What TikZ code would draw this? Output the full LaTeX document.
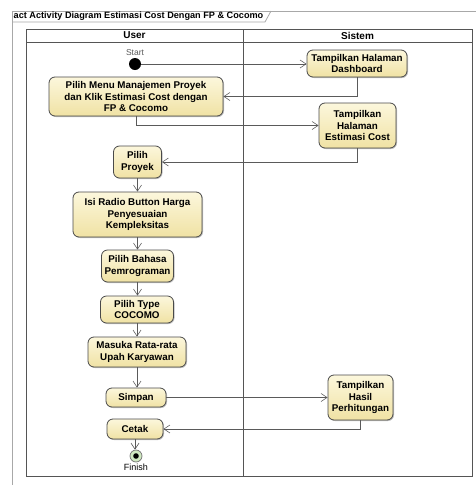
\documentclass[tikz,border=0pt]{standalone}
\usepackage{fontspec}
\setmainfont{Liberation Sans}
\usetikzlibrary{arrows.meta,shadows}
\definecolor{boxtop}{HTML}{FCF7DC}
\definecolor{boxbot}{HTML}{F0E2A4}
\definecolor{boxline}{HTML}{4A4A4A}
\definecolor{flowline}{HTML}{5A5A5A}
\definecolor{frameline}{HTML}{A8A8A8}
\definecolor{laneline}{HTML}{555555}
\definecolor{finfill}{HTML}{CFE8C0}
\begin{document}
\begin{tikzpicture}[x=1pt,y=-1pt,
  actbox/.style={draw=boxline, line width=0.8pt, rounded corners=6pt,
    top color=boxtop, bottom color=boxbot, align=center, inner sep=0pt,
    font=\bfseries\fontsize{9.8}{11.5}\selectfont,
    drop shadow={shadow xshift=1pt, shadow yshift=-1pt, opacity=0.25, fill=black}},
  flow/.style={draw=flowline, line width=0.6pt, -{Straight Barb[length=6pt,width=8pt]}},
  lane/.style={draw=laneline, line width=0.9pt},
  frm/.style={draw=frameline, line width=0.8pt},
  hdr/.style={font=\bfseries\fontsize{10}{12}\selectfont, inner sep=0pt}
]
\useasboundingbox[fill=white] (0,0) rectangle (476,485);
% frame
\draw[frm] (476,11) -- (12,11) -- (12,485);
\draw[frm] (12,22) -- (265,22) -- (271,11);
\node[anchor=west, inner sep=0pt, font=\bfseries\fontsize{9.15}{10}\selectfont] (title) at (13.5,16.5) {act Activity Diagram Estimasi Cost Dengan FP \& Cocomo};
% swimlanes
\draw[lane] (26,29) rectangle (472,476);
\draw[lane] (26,42) -- (472,42);
\draw[lane] (243,29) -- (243,476);
\node[hdr] (huser) at (134.5,35.5) {User};
\node[hdr] (hsis) at (357.5,35.5) {Sistem};
% nodes
\node[circle, fill=black, minimum size=12pt, inner sep=0pt] (start) at (135,64) {};
\node[inner sep=0pt, text=black!65, font=\fontsize{8.5}{9}\selectfont] (startlbl) at (135,53) {Start};
\node[actbox, minimum width=100pt, minimum height=27pt] (dash) at (357,63.5) {Tampilkan Halaman\\Dashboard};
\node[actbox, minimum width=174pt, minimum height=39pt] (menu) at (136,96.5) {Pilih Menu Manajemen Proyek\\dan Klik Estimasi Cost dengan\\FP \& Cocomo};
\node[actbox, minimum width=77pt, minimum height=45pt] (estim) at (357.5,125.5) {Tampilkan\\Halaman\\Estimasi Cost};
\node[actbox, minimum width=48pt, minimum height=32pt] (proyek) at (137.5,162) {Pilih\\Proyek};
\node[actbox, minimum width=129pt, minimum height=45pt] (radio) at (137.5,214.5) {Isi Radio Button Harga\\Penyesuaian\\Kempleksitas};
\node[actbox, minimum width=72pt, minimum height=32pt] (bahasa) at (137.5,266) {Pilih Bahasa\\Pemrograman};
\node[actbox, minimum width=73pt, minimum height=27pt] (type) at (137,309.5) {Pilih Type\\COCOMO};
\node[actbox, minimum width=98pt, minimum height=30pt] (masuka) at (137,352) {Masuka Rata-rata\\Upah Karyawan};
\node[actbox, minimum width=60pt, minimum height=19pt] (simpan) at (136,397.5) {Simpan};
\node[actbox, minimum width=65pt, minimum height=45pt] (hasil) at (360.5,397.5) {Tampilkan\\Hasil\\Perhitungan};
\node[actbox, minimum width=56pt, minimum height=20pt] (cetak) at (135,429) {Cetak};
\node[circle, draw=black!55, fill=finfill, line width=0.7pt, minimum size=12pt, inner sep=0pt] (finish) at (136,456) {};
\fill[black] (finish.center) circle (2.8pt);
\node[inner sep=0pt, font=\fontsize{9}{10}\selectfont] (finlbl) at (136,467.5) {Finish};
% connectors
\draw[flow] (start.east) -- (start.east -| dash.west);
\draw[flow] (dash.south) |- (menu.east);
\draw[flow] (menu.south) |- (estim.west);
\draw[flow] (estim.south) |- (proyek.east);
\draw[flow] (proyek.south) -- (radio.north -| proyek.south);
\draw[flow] (radio.south) -- (bahasa.north);
\draw[flow] (bahasa.south) -- (type.north -| bahasa.south);
\draw[flow] (type.south) -- (masuka.north);
\draw[flow] (masuka.south) -- (simpan.north -| masuka.south);
\draw[flow] (simpan.east) -- (hasil.west);
\draw[flow] (hasil.south) |- (cetak.east);
\draw[flow] (cetak.south) -- (finish.north -| cetak.south);
\end{tikzpicture}
\end{document}
